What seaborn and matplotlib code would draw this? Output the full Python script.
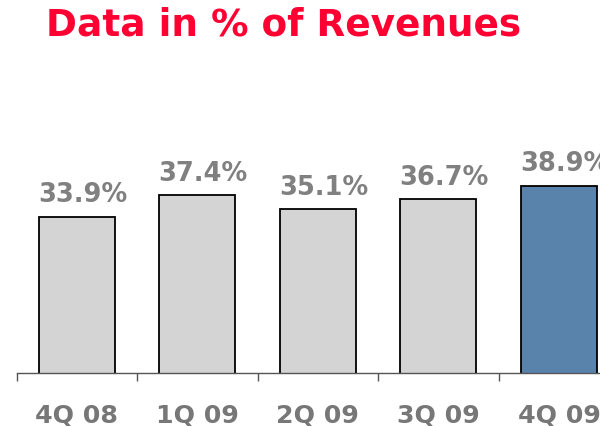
import matplotlib
matplotlib.use("Agg")
import matplotlib.pyplot as plt
import seaborn as sns
import pandas as pd

quarters = ["4Q 08", "1Q 09", "2Q 09", "3Q 09", "4Q 09"]
share_of_revenues = [33.9, 37.4, 35.1, 36.7, 38.9]
value_labels = ["33.9%", "37.4%", "35.1%", "36.7%", "38.9%"]
bar_colors = ["#d4d4d4", "#d4d4d4", "#d4d4d4", "#d4d4d4", "#5a83ab"]

sns.set_theme(style="white")
plt.rcParams["font.family"] = ["DejaVu Sans"]

df = pd.DataFrame({"quarter": quarters, "share": share_of_revenues})

fig = plt.figure(figsize=(6.0, 4.27), dpi=100)
ax = fig.add_axes([16.5 / 600, 53 / 427, (600 - 16.5) / 600, 314 / 427])

sns.barplot(data=df, x="quarter", y="share", hue="quarter",
            palette=bar_colors, legend=False, width=0.63,
            edgecolor="black", linewidth=1.3, saturation=1, ax=ax)

for i, (v, txt) in enumerate(zip(share_of_revenues, value_labels)):
    ax.annotate(txt, xy=(i, v), xytext=(4.3, 11), textcoords="offset points",
                ha="center", va="baseline", fontsize=18.5, fontweight="bold",
                color="#808080")

# category labels at bar centres, tick marks at category boundaries
ax.set_xticks(range(len(quarters)))
ax.set_xticklabels(quarters, fontsize=18.2, fontweight="bold", color="#777777")
ax.tick_params(axis="x", which="major", length=0, pad=21)
ax.set_xticks([i - 0.5 for i in range(len(quarters) + 1)], minor=True)
ax.tick_params(axis="x", which="minor", length=6, width=1, color="#555555",
               direction="out", bottom=True)
ax.set_yticks([])
ax.set_xlabel("")
ax.set_ylabel("")

ax.set_xlim(-0.5, 4.34)
ax.set_ylim(8.7, 59.3)

for side in ("top", "right", "left"):
    ax.spines[side].set_visible(False)
ax.spines["bottom"].set_color("#555555")
ax.spines["bottom"].set_linewidth(1)

fig.text(46 / 600, (427 - 35) / 427, "Data in % of Revenues", ha="left",
         va="baseline", fontsize=26.9, fontweight="bold", color="#ff0033")

fig.savefig("out.png", dpi=100)
